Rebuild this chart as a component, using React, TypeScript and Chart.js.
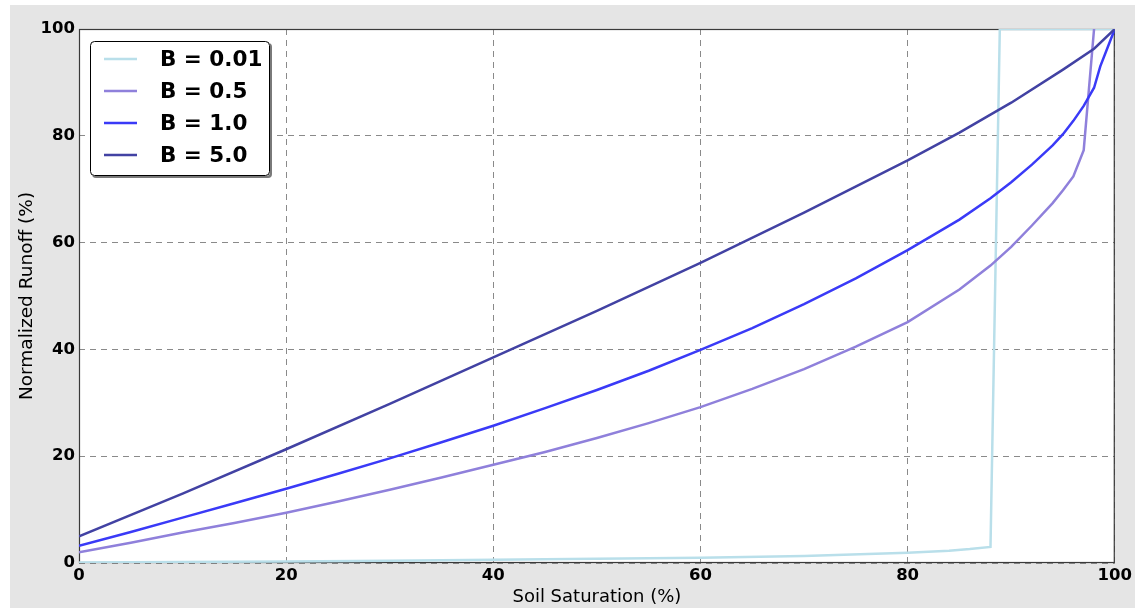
import React, { useEffect, useRef } from 'react';
import { Chart, registerables } from 'chart.js';

Chart.register(...registerables);

const seriesLabels = ['B = 0.01', 'B = 0.5', 'B = 1.0', 'B = 5.0'];
const seriesColors = ['#b9dfea', '#8f80db', '#3a3af7', '#4242a3'];

const b001X = [0, 10, 20, 30, 40, 50, 60, 70, 80, 84, 86, 88, 88.9, 100];
const b001Y = [0.1, 0.2, 0.3, 0.4, 0.6, 0.8, 1.0, 1.3, 1.9, 2.3, 2.6, 3.0, 100, 100];

const b05X = [0, 5, 10, 15, 20, 25, 30, 35, 40, 45, 50, 55, 60, 65, 70, 75, 80, 85, 88, 90, 92, 94, 95, 96, 97, 98];
const b05Y = [2, 3.8, 5.7, 7.5, 9.4, 11.5, 13.7, 16, 18.4, 20.8, 23.4, 26.2, 29.2, 32.6, 36.3, 40.5, 45.1, 51.2, 55.7, 59.2, 63.2, 67.4, 69.8, 72.4, 77.3, 100];

const b1X = [0, 5, 10, 15, 20, 25, 30, 35, 40, 45, 50, 55, 60, 65, 70, 75, 80, 85, 88, 90, 92, 94, 95, 96, 97, 98, 98.6, 100];
const b1Y = [3.2, 5.8, 8.5, 11.2, 13.9, 16.7, 19.6, 22.6, 25.7, 29, 32.4, 36, 39.9, 44, 48.5, 53.3, 58.6, 64.3, 68.3, 71.3, 74.6, 78.2, 80.3, 82.8, 85.6, 89, 93, 100];

const b5X = [0, 10, 20, 30, 40, 50, 60, 70, 80, 85, 90, 95, 98, 100];
const b5Y = [5, 13, 21.3, 29.8, 38.5, 47.2, 56.2, 65.6, 75.4, 80.6, 86.2, 92.4, 96.3, 100];

const seriesX = [b001X, b05X, b1X, b5X];
const seriesY = [b001Y, b05Y, b1Y, b5Y];

const FONT = "'DejaVu Sans', 'Liberation Sans', sans-serif";

function roundRectPath(ctx: CanvasRenderingContext2D, x: number, y: number, w: number, h: number, r: number) {
  ctx.beginPath();
  ctx.moveTo(x + r, y);
  ctx.lineTo(x + w - r, y);
  ctx.quadraticCurveTo(x + w, y, x + w, y + r);
  ctx.lineTo(x + w, y + h - r);
  ctx.quadraticCurveTo(x + w, y + h, x + w - r, y + h);
  ctx.lineTo(x + r, y + h);
  ctx.quadraticCurveTo(x, y + h, x, y + h - r);
  ctx.lineTo(x, y + r);
  ctx.quadraticCurveTo(x, y, x + r, y);
  ctx.closePath();
}

const backgroundPlugin = {
  id: 'bgPlugin',
  beforeDraw(chart: any) {
    const { ctx, width, height, chartArea } = chart;
    ctx.save();
    ctx.fillStyle = '#ffffff';
    ctx.fillRect(0, 0, width, height);
    ctx.fillStyle = '#e5e5e5';
    ctx.fillRect(10, 5, width - 10, height - 5);
    ctx.fillStyle = '#ffffff';
    ctx.fillRect(chartArea.left, chartArea.top, chartArea.right - chartArea.left, chartArea.bottom - chartArea.top);
    ctx.restore();
  },
  beforeDatasetsDraw(chart: any) {
    const { ctx, chartArea } = chart;
    ctx.save();
    ctx.strokeStyle = '#3a3a3a';
    ctx.lineWidth = 1.2;
    ctx.strokeRect(chartArea.left + 0.5, chartArea.top + 0.5, chartArea.right - chartArea.left - 1, chartArea.bottom - chartArea.top - 1);
    ctx.restore();
  },
};

const legendBoxPlugin = {
  id: 'legendBox',
  afterDraw(chart: any) {
    const { ctx, chartArea } = chart;
    ctx.save();
    const bx = chartArea.left + 11;
    const by = chartArea.top + 12;
    const bw = 180;
    const bh = 135;
    ctx.fillStyle = '#7a7a7a';
    roundRectPath(ctx, bx + 2, by + 2, bw, bh, 4);
    ctx.fill();
    ctx.fillStyle = '#ffffff';
    roundRectPath(ctx, bx, by, bw, bh, 4);
    ctx.fill();
    ctx.strokeStyle = '#000000';
    ctx.lineWidth = 1;
    roundRectPath(ctx, bx + 0.5, by + 0.5, bw - 1, bh - 1, 4);
    ctx.stroke();

    ctx.font = `bold 21.5px ${FONT}`;
    ctx.textBaseline = 'middle';
    ctx.textAlign = 'left';
    chart.data.datasets.forEach((ds: any, i: number) => {
      const ry = by + 18 + i * 32;
      ctx.strokeStyle = ds.borderColor;
      ctx.lineWidth = 2.5;
      ctx.beginPath();
      ctx.moveTo(bx + 14, ry);
      ctx.lineTo(bx + 47, ry);
      ctx.stroke();
      ctx.fillStyle = '#000000';
      ctx.fillText(ds.label, bx + 70, ry + 1);
    });
    ctx.restore();
  },
};

export default function App() {
  const canvasRef = useRef<HTMLCanvasElement | null>(null);

  useEffect(() => {
    if (!canvasRef.current) return;
    const datasets = seriesLabels.map((label, i) => ({
      label,
      data: seriesX[i].map((x, j) => ({ x, y: seriesY[i][j] })),
      borderColor: seriesColors[i],
      backgroundColor: seriesColors[i],
      borderWidth: 2.5,
      pointRadius: 0,
      tension: 0,
      fill: false,
      order: seriesLabels.length - i,
    }));

    const chart = new Chart(canvasRef.current, {
      type: 'line',
      data: { datasets },
      options: {
        animation: false,
        responsive: false,
        devicePixelRatio: 1,
        layout: { padding: { left: 0, right: 19, top: 29, bottom: 0 } },
        plugins: {
          legend: { display: false },
          tooltip: { enabled: false },
        },
        scales: {
          x: {
            type: 'linear',
            min: 0,
            max: 100,
            afterFit: (s: any) => {
              s.height = 45;
            },
            ticks: {
              stepSize: 20,
              color: '#000',
              padding: 3,
              maxRotation: 0,
              autoSkip: false,
              font: { family: FONT, size: 16.5, weight: 'bold' },
            },
            grid: { color: '#8a8a8a', lineWidth: 1, drawTicks: false },
            border: { display: false, dash: [6, 5] },
            title: {
              display: true,
              text: 'Soil Saturation (%)',
              color: '#000',
              font: { family: FONT, size: 18 },
              padding: { top: 0, bottom: 0 },
            },
          },
          y: {
            type: 'linear',
            min: 0,
            max: 100,
            afterFit: (s: any) => {
              s.width = 79;
            },
            ticks: {
              stepSize: 20,
              color: '#000',
              padding: 4,
              font: { family: FONT, size: 16.5, weight: 'bold' },
            },
            grid: { color: '#8a8a8a', lineWidth: 1, drawTicks: false },
            border: { display: false, dash: [6, 5] },
            title: {
              display: true,
              text: 'Normalized Runoff (%)',
              color: '#000',
              font: { family: FONT, size: 18.5 },
              padding: { top: 16, bottom: 0 },
            },
          },
        },
      },
      plugins: [backgroundPlugin, legendBoxPlugin],
    } as any);

    return () => chart.destroy();
  }, []);

  return (
    <div style={{ position: 'absolute', left: 0, top: 0, width: 1135, height: 608 }}>
      <canvas ref={canvasRef} width={1135} height={608} style={{ display: 'block' }} />
    </div>
  );
}
